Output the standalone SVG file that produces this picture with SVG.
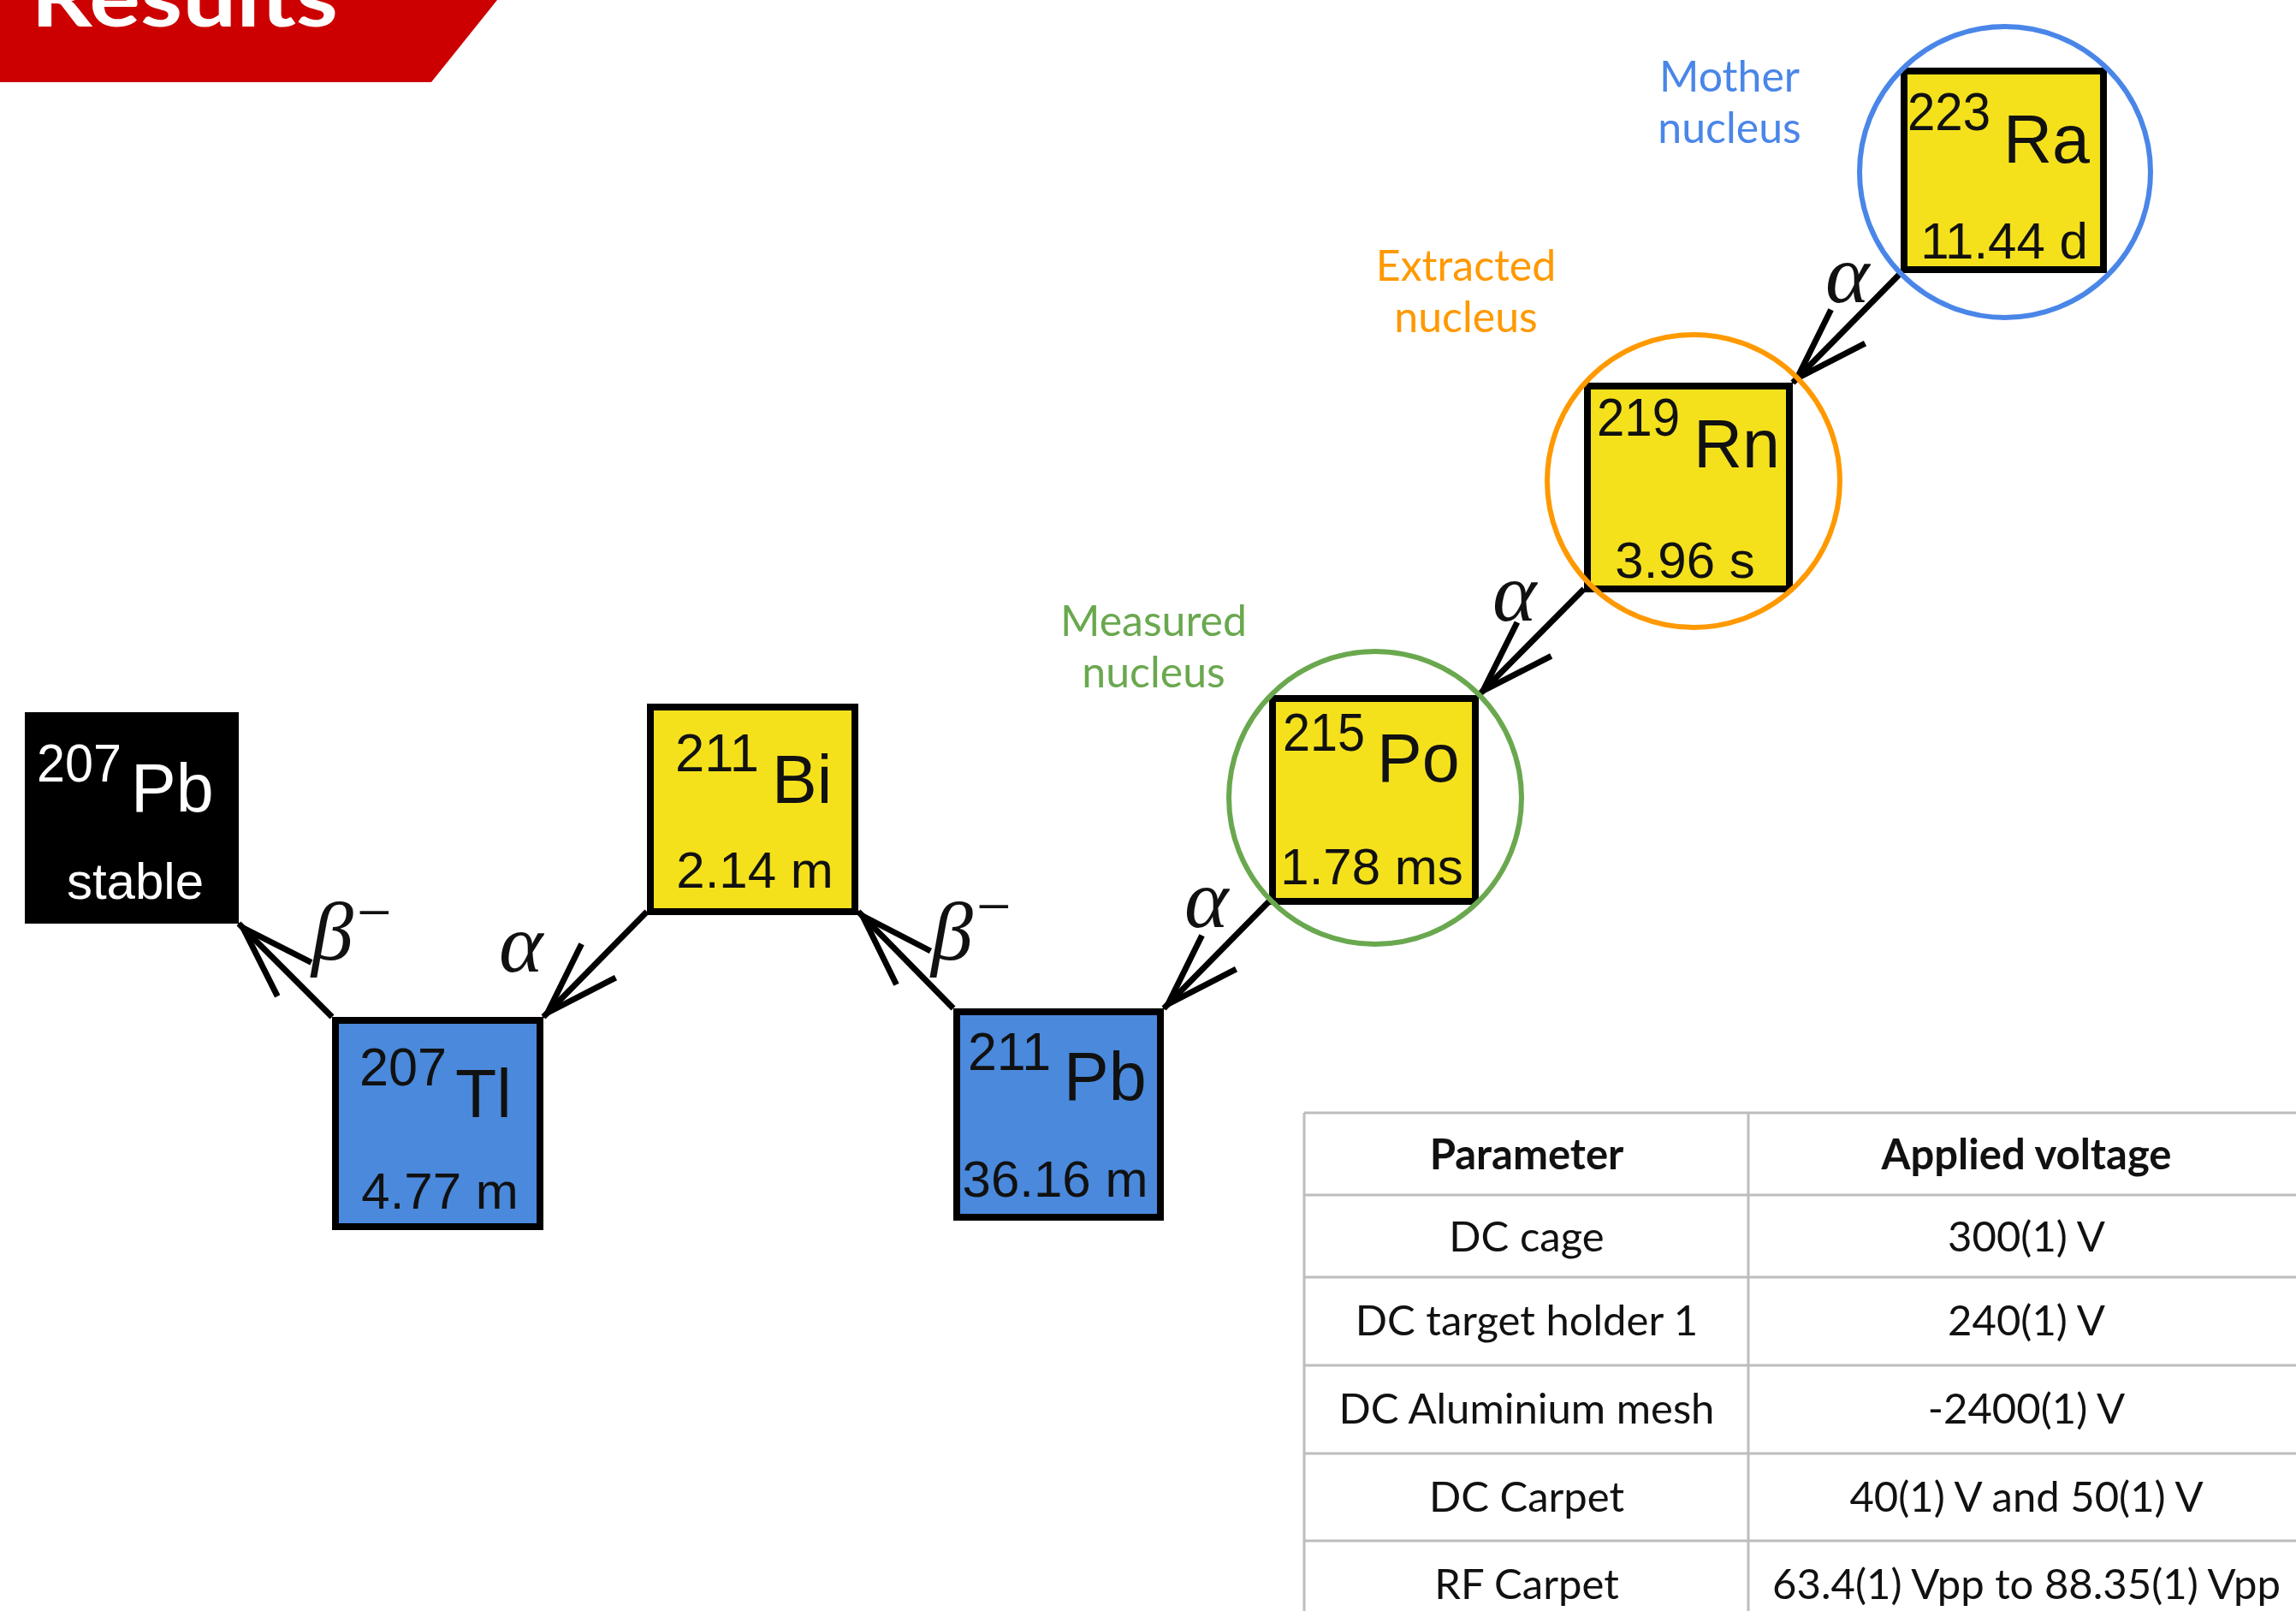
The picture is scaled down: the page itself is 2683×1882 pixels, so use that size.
<svg xmlns="http://www.w3.org/2000/svg" width="2683" height="1882" viewBox="0 0 2683 1882">
<style>
  .box { stroke: #000; stroke-width: 8; }
  .yel { fill: #f4e11c; }
  .blu { fill: #4a89dc; }
  .blk { fill: #000; }
  .t { font-family: "Liberation Sans", Arial, sans-serif; fill: #111; }
  .sup { font-size: 63px; }
  .el { font-size: 79px; }
  .hl { font-size: 60px; text-anchor: middle; }
  .wt { fill: #fff; }
  .greek { font-family: "Liberation Serif", "Times New Roman", serif; font-style: italic; font-size: 98px; fill: #111; }
  .lbl { font-family: Lato, "Open Sans", sans-serif; font-size: 50px; text-anchor: middle; }
  .ring { fill: none; stroke-width: 6; }
  .conn { stroke: #000; stroke-width: 7; fill: none; marker-end: url(#arr); }
  .grid { stroke: #bdbdbd; stroke-width: 3; }
  .th { font-family: Lato, "Open Sans", sans-serif; font-weight: bold; font-size: 49px; text-anchor: middle; fill: #111; }
  .td { font-family: Lato, "Open Sans", sans-serif; font-size: 49px; text-anchor: middle; fill: #111; }
</style>
<defs>
  <marker id="arr" markerUnits="userSpaceOnUse" viewBox="-100 -50 120 100" markerWidth="120" markerHeight="100" refX="0" refY="0" orient="auto" overflow="visible">
    <path d="M-92,-28 L-7,0 L-92,28" fill="none" stroke="#000" stroke-width="7"/>
  </marker>
</defs>
<rect width="2683" height="1882" fill="#fff"/>

<g id="banner">
  <polygon points="0,0 581,0 504,96 0,96" fill="#cc0000"/>
  <text x="36" y="31" font-family="Lato, 'Open Sans', sans-serif" font-weight="bold" font-size="96" fill="#fff" textLength="359" lengthAdjust="spacingAndGlyphs">Results</text>
</g>

<g id="connectors">
  <line class="conn" x1="2221" y1="319" x2="2095" y2="447"/>
  <line class="conn" x1="1851" y1="688" x2="1728" y2="812"/>
  <line class="conn" x1="1483" y1="1053" x2="1360" y2="1178"/>
  <line class="conn" x1="756" y1="1065" x2="635" y2="1188"/>
  <line class="conn" x1="388" y1="1188" x2="279" y2="1079"/>
  <line class="conn" x1="1114" y1="1178" x2="1003" y2="1065"/>
  <text class="greek" x="2133" y="353">α</text>
  <text class="greek" x="1744" y="725">α</text>
  <text class="greek" x="1384" y="1083">α</text>
  <text class="greek" x="583" y="1135">α</text>
  <text class="greek" x="364" y="1121">β<tspan x="417" y="1090" font-size="72" font-style="normal">−</tspan></text>
  <text class="greek" x="1088" y="1121">β<tspan x="1141" y="1083" font-size="72" font-style="normal">−</tspan></text>
</g>

<g id="ra223">
  <rect class="box yel" x="2225" y="83" width="233" height="232"/>
  <text class="t sup" x="2229" y="152" textLength="97" lengthAdjust="spacingAndGlyphs">223</text>
  <text class="t el" x="2341" y="190">Ra</text>
  <text class="t hl" x="2342" y="302">11.44 d</text>
</g>

<g id="rn219">
  <rect class="box yel" x="1855" y="451" width="236" height="237"/>
  <text class="t sup" x="1866" y="509" textLength="97" lengthAdjust="spacingAndGlyphs">219</text>
  <text class="t el" x="1979" y="546">Rn</text>
  <text class="t hl" x="1969" y="675">3.96 s</text>
</g>

<g id="po215">
  <rect class="box yel" x="1487" y="816" width="237" height="237"/>
  <text class="t sup" x="1499" y="877" textLength="96" lengthAdjust="spacingAndGlyphs">215</text>
  <text class="t el" x="1609" y="913">Po</text>
  <text class="t hl" x="1603" y="1033">1.78 ms</text>
</g>

<g id="bi211">
  <rect class="box yel" x="760" y="826" width="239" height="239"/>
  <text class="t sup" x="789" y="901" textLength="98" lengthAdjust="spacingAndGlyphs">211</text>
  <text class="t el" x="902" y="938">Bi</text>
  <text class="t hl" x="882" y="1037">2.14 m</text>
</g>

<g id="pb211">
  <rect class="box blu" x="1118" y="1182" width="238" height="240"/>
  <text class="t sup" x="1131" y="1250" textLength="97" lengthAdjust="spacingAndGlyphs">211</text>
  <text class="t el" x="1243" y="1285">Pb</text>
  <text class="t hl" x="1233" y="1398">36.16 m</text>
</g>

<g id="tl207">
  <rect class="box blu" x="392" y="1192" width="239" height="241"/>
  <text class="t sup" x="420" y="1268" textLength="102" lengthAdjust="spacingAndGlyphs">207</text>
  <text class="t el" x="532" y="1305">Tl</text>
  <text class="t hl" x="514" y="1412">4.77 m</text>
</g>

<g id="pb207">
  <rect class="blk" x="29" y="832" width="250" height="247"/>
  <text class="t sup wt" x="43" y="913" textLength="99" lengthAdjust="spacingAndGlyphs">207</text>
  <text class="t el wt" x="153" y="948">Pb</text>
  <text class="t hl wt" x="158" y="1050">stable</text>
</g>

<g id="highlights">
  <circle class="ring" cx="2343" cy="201" r="170" stroke="#4a86e8"/>
  <circle class="ring" cx="1979" cy="562" r="171" stroke="#ff9900"/>
  <circle class="ring" cx="1607" cy="932" r="171" stroke="#6aa84f"/>
</g>

<g id="labels">
  <text class="lbl" fill="#4a86e8" x="2021" y="107">Mother</text>
  <text class="lbl" fill="#4a86e8" x="2021" y="167">nucleus</text>
  <text class="lbl" fill="#ff9900" x="1713" y="328">Extracted</text>
  <text class="lbl" fill="#ff9900" x="1713" y="388">nucleus</text>
  <text class="lbl" fill="#6aa84f" x="1348" y="743">Measured</text>
  <text class="lbl" fill="#6aa84f" x="1348" y="803">nucleus</text>
</g>

<g id="table">
  <line class="grid" x1="1524" y1="1300" x2="2683" y2="1300"/>
  <line class="grid" x1="1524" y1="1396" x2="2683" y2="1396"/>
  <line class="grid" x1="1524" y1="1492" x2="2683" y2="1492"/>
  <line class="grid" x1="1524" y1="1595" x2="2683" y2="1595"/>
  <line class="grid" x1="1524" y1="1698" x2="2683" y2="1698"/>
  <line class="grid" x1="1524" y1="1800" x2="2683" y2="1800"/>
  <line class="grid" x1="1524" y1="1300" x2="1524" y2="1882"/>
  <line class="grid" x1="2043" y1="1300" x2="2043" y2="1882"/>
  <text class="th" x="1784" y="1366">Parameter</text>
  <text class="th" x="2368" y="1366">Applied voltage</text>
  <text class="td" x="1784" y="1462">DC cage</text>
  <text class="td" x="2368" y="1462">300(1) V</text>
  <text class="td" x="1784" y="1560">DC target holder 1</text>
  <text class="td" x="2368" y="1560">240(1) V</text>
  <text class="td" x="1784" y="1663">DC Aluminium mesh</text>
  <text class="td" x="2368" y="1663">-2400(1) V</text>
  <text class="td" x="1784" y="1766">DC Carpet</text>
  <text class="td" x="2368" y="1766">40(1) V and 50(1) V</text>
  <text class="td" x="1784" y="1868">RF Carpet</text>
  <text class="td" x="2368" y="1868">63.4(1) Vpp to 88.35(1) Vpp</text>
</g>
</svg>
